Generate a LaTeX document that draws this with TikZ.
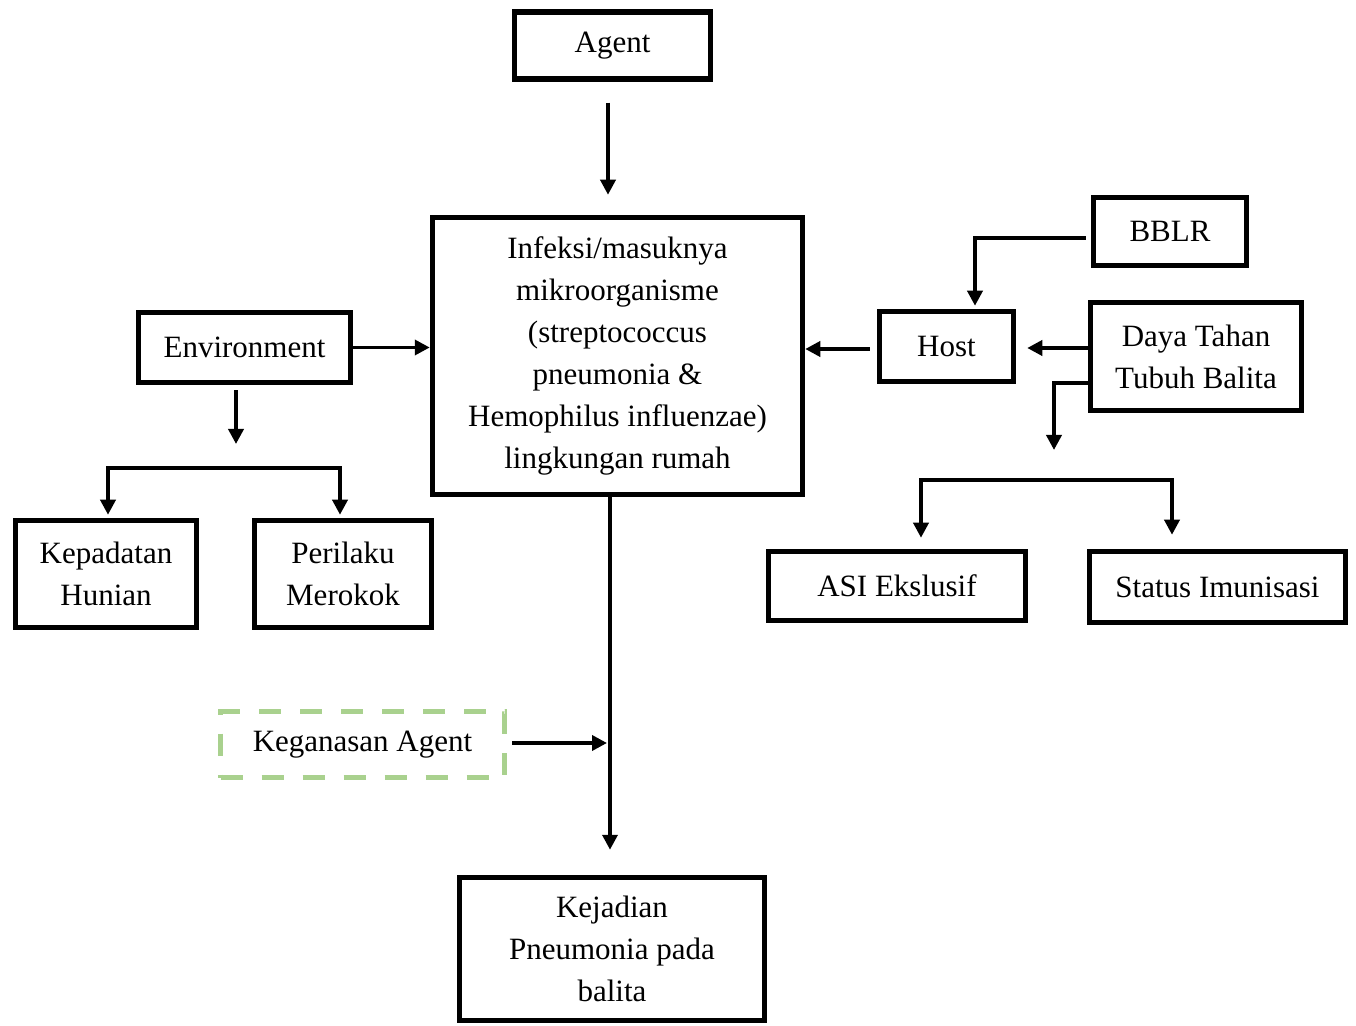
\documentclass[tikz,border=0pt]{standalone}
\usepackage{fontspec}
\setmainfont{Liberation Serif}
\usetikzlibrary{arrows.meta,calc}
\definecolor{dashgreen}{RGB}{169,209,142}
\begin{document}
\begin{tikzpicture}[x=0.5pt,y=-0.5pt,
  box/.style={draw=black,line width=2.75pt,align=center,inner sep=0pt,
    font=\fontsize{15.5}{21}\selectfont},
  dbox/.style={draw=dashgreen,line width=2.5pt,dash pattern=on 11pt off 9.5pt,align=center,inner sep=0pt,
    font=\fontsize{15.5}{21}\selectfont},
  arr/.style={line width=1.8pt,-{Triangle[length=7.5pt,width=7.5pt]}},
  ln/.style={line width=1.8pt}]
\useasboundingbox (0,0) rectangle (1356,1026);
\node[box,minimum width=98pt,minimum height=33.5pt] (agent) at (612.5,45.5) {Agent};
\node[box,minimum width=185pt,minimum height=138.5pt] (central) at (617.5,356)
  {Infeksi/masuknya\\mikroorganisme\\(streptococcus\\pneumonia \&\\Hemophilus influenzae)\\lingkungan rumah};
\node[box,minimum width=106pt,minimum height=35pt] (env) at (244.5,347.5) {Environment};
\node[box,minimum width=90.5pt,minimum height=53.5pt] (kep) at (106,574) {Kepadatan\\Hunian};
\node[box,minimum width=88.5pt,minimum height=53.5pt] (per) at (343,574) {Perilaku\\Merokok};
\node[box,minimum width=67pt,minimum height=35pt] (host) at (946.5,346.5) {Host};
\node[box,minimum width=76.5pt,minimum height=34pt] (bblr) at (1170,231.5) {BBLR};
\node[box,minimum width=105.5pt,minimum height=54pt] (daya) at (1196,356.5) {Daya Tahan\\Tubuh Balita};
\node[box,minimum width=128.5pt,minimum height=34.5pt] (asi) at (897,586) {ASI Ekslusif};
\node[box,minimum width=128pt,minimum height=35.5pt] (status) at (1217.5,587) {Status Imunisasi};
\node[dbox,minimum width=142pt,minimum height=33pt] (keg) at (362.5,744.5) {Keganasan Agent};
\node[box,minimum width=152.5pt,minimum height=71.5pt] (kej) at (612,949) {Kejadian\\Pneumonia pada\\balita};
% coordinates for free ends
\coordinate (envdown) at (236,444);
\coordinate (lbranch) at (236,468);
\coordinate (dayadown) at (1054,450);
\coordinate (rbranch) at (1054,480);
\coordinate (kegtip) at (607,743);
\coordinate (cdown) at ([xshift=-3.75pt]central.south);
% Agent -> central
\draw[arr] ([xshift=-2.25pt,yshift=-10.5pt]agent.south) -- ([xshift=-4.75pt,yshift=10pt]central.north);
% Environment
\draw[arr] (env.east) -- (env.east -| central.west);
\draw[arr] ([xshift=-4.25pt,yshift=-2.5pt]env.south) -- (envdown);
\draw[ln,line cap=rect] ([xshift=1pt]lbranch -| kep.north) -- ([xshift=-1.5pt]lbranch -| per.north);
\draw[arr] ([xshift=1pt]lbranch -| kep.north) -- ([xshift=1pt,yshift=1.5pt]kep.north);
\draw[arr] ([xshift=-1.5pt]lbranch -| per.north) -- ([xshift=-1.5pt,yshift=1.5pt]per.north);
% Host
\draw[arr] ([xshift=-3.5pt,yshift=-1.25pt]host.west) -- ([yshift=-1.25pt]host.west -| central.east);
\draw[arr] ([xshift=-2.5pt,yshift=-3.25pt]bblr.west) -| ([xshift=14.25pt,yshift=1.5pt]host.north);
\draw[arr] ([yshift=4.25pt]daya.west) -- ([xshift=5.5pt,yshift=4.25pt]daya.west -| host.east);
\draw[arr] ([yshift=-13.25pt]daya.west) -| (dayadown);
\draw[ln,line cap=rect] ([xshift=12pt]rbranch -| asi.north) -- ([xshift=-22.75pt]rbranch -| status.north);
\draw[arr] ([xshift=12pt]rbranch -| asi.north) -- ([xshift=12pt,yshift=5.5pt]asi.north);
\draw[arr] ([xshift=-22.75pt]rbranch -| status.north) -- ([xshift=-22.75pt,yshift=7pt]status.north);
% central -> kejadian
\draw[arr] (cdown) -- ([yshift=12.5pt]cdown |- kej.north);
\draw[arr] ([xshift=2.5pt,yshift=0.75pt]keg.east) -- (kegtip);
\end{tikzpicture}
\end{document}
